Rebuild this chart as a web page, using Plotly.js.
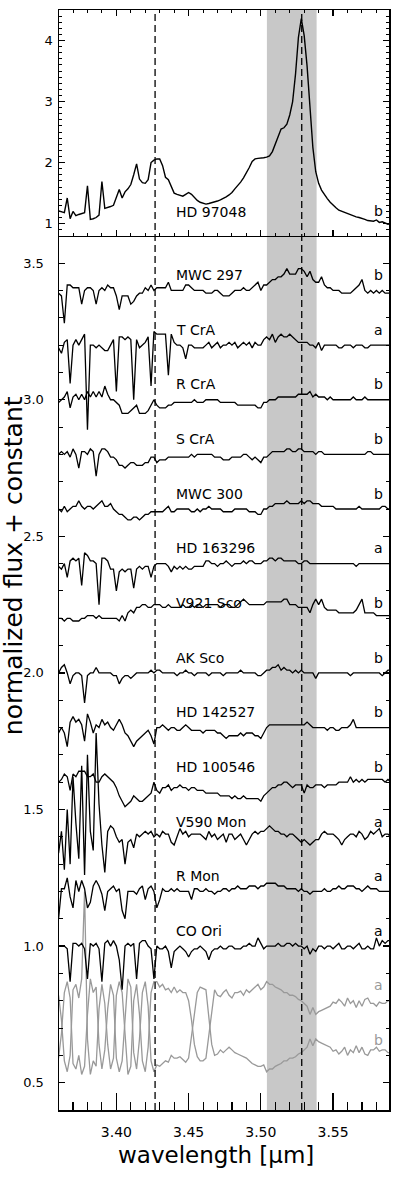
<!DOCTYPE html>
<html>
<head>
<meta charset="utf-8">
<script src="https://cdn.plot.ly/plotly-3.0.1.min.js"></script>
<style>
html,body{margin:0;padding:0;background:#fff;}
#chart{width:393px;height:1181px;}
</style>
</head>
<body>
<div id="chart"></div>
<script>
// ---------------- data ----------------
const wavelength = [
3.360,3.362,3.364,3.366,3.368,3.370,3.372,3.374,3.376,3.378,
3.380,3.382,3.384,3.386,3.388,3.390,3.392,3.394,3.396,3.398,
3.400,3.402,3.404,3.406,3.408,3.410,3.412,3.414,3.416,3.418,
3.420,3.422,3.424,3.426,3.428,3.430,3.432,3.434,3.436,3.438,
3.440,3.442,3.444,3.446,3.448,3.450,3.452,3.454,3.456,3.458,
3.460,3.462,3.464,3.466,3.468,3.470,3.472,3.474,3.476,3.478,
3.480,3.482,3.484,3.486,3.488,3.490,3.492,3.494,3.496,3.498,
3.500,3.502,3.504,3.506,3.508,3.510,3.512,3.514,3.516,3.518,
3.520,3.522,3.524,3.526,3.528,3.530,3.532,3.534,3.536,3.538,
3.540,3.542,3.544,3.546,3.548,3.550,3.552,3.554,3.556,3.558,
3.560,3.562,3.564,3.566,3.568,3.570,3.572,3.574,3.576,3.578,
3.580,3.582,3.584,3.586,3.588,3.590];

// top panel: HD 97048 (normalized flux)
const hd97048 = [
1.21,1.19,1.18,1.42,1.08,1.20,1.13,1.15,1.16,1.18,
1.62,1.07,1.08,1.10,1.14,1.69,1.25,1.26,1.28,1.30,
1.42,1.56,1.42,1.52,1.57,1.64,1.80,1.98,1.73,1.67,
1.66,1.72,2.00,2.04,2.06,2.06,1.95,1.76,1.72,1.62,
1.50,1.48,1.46,1.45,1.48,1.51,1.48,1.43,1.38,1.35,
1.33,1.32,1.33,1.34,1.36,1.37,1.39,1.41,1.44,1.47,
1.51,1.57,1.62,1.68,1.75,1.83,1.92,2.02,2.06,2.07,
2.07,2.08,2.09,2.11,2.18,2.30,2.45,2.55,2.57,2.63,
2.78,3.00,3.45,4.05,4.36,4.08,3.58,2.90,2.25,1.85,
1.66,1.55,1.47,1.41,1.35,1.30,1.26,1.22,1.20,1.18,
1.16,1.14,1.12,1.11,1.10,1.09,1.07,1.05,1.04,1.04,
1.06,1.02,1.03,1.01,0.99,1.00];

// bottom panel: normalized flux of each star
const mwc297 = [
0.99,0.98,0.88,1.02,1.02,1.01,1.01,1.01,0.95,1.00,
1.01,1.01,1.00,0.95,1.00,1.01,1.00,1.02,1.01,1.01,
0.98,0.93,0.98,0.98,0.98,0.95,0.96,0.98,0.99,0.99,
1.01,1.00,1.02,1.00,1.01,1.01,1.01,1.01,1.03,1.00,
1.00,1.00,1.00,1.00,1.02,1.02,1.01,1.00,1.00,1.00,
1.00,0.99,0.99,0.99,1.00,1.00,0.99,0.98,0.98,0.98,
0.99,1.00,1.00,1.00,1.01,1.00,1.00,1.01,1.02,1.03,
1.00,1.02,1.02,1.03,1.04,1.04,1.05,1.05,1.06,1.08,
1.06,1.06,1.06,1.08,1.08,1.07,1.05,1.07,1.04,1.03,
1.03,1.05,1.02,1.01,1.01,1.00,1.00,1.00,0.99,0.99,
0.99,0.99,1.00,1.01,1.02,1.04,1.00,0.99,1.00,0.99,
1.00,0.99,1.00,0.99,0.99,0.99];
const tcra = [
0.99,0.97,1.01,1.02,0.86,1.00,1.02,1.00,1.02,1.04,
0.69,1.00,1.00,0.99,1.00,0.99,0.98,0.98,1.00,1.02,
0.83,1.03,1.03,1.02,1.03,1.02,0.80,1.02,0.99,1.00,
1.01,1.03,0.85,1.05,1.04,1.04,1.04,1.04,0.89,1.04,
1.01,1.00,1.00,0.99,0.95,1.00,1.00,0.99,0.99,0.99,
0.99,1.00,1.01,0.99,1.00,1.01,0.99,1.00,1.00,1.01,
1.00,1.01,0.99,1.00,1.01,1.00,1.01,0.99,1.01,1.00,
1.00,1.02,1.03,1.02,1.04,1.01,1.03,1.04,1.03,1.03,
1.04,1.03,1.02,1.01,1.01,1.01,1.01,1.00,1.00,0.99,
1.01,0.98,1.00,1.00,1.00,1.00,1.00,0.99,0.99,1.00,
1.00,1.00,0.99,1.00,1.00,1.00,0.99,0.99,1.00,1.00,
1.00,1.00,1.00,1.00,1.00,1.00];
const rcra = [
0.99,1.00,1.01,1.03,0.97,1.01,1.02,1.00,1.02,1.00,
1.03,1.01,1.03,1.01,1.03,1.01,1.05,1.02,1.00,1.00,
0.99,0.98,0.95,0.95,0.95,0.96,0.97,0.98,0.95,0.95,
0.95,0.96,0.98,1.00,0.98,0.97,0.97,0.97,0.98,0.98,
0.99,0.99,0.99,0.99,0.99,0.99,0.99,1.00,0.99,0.99,
0.99,1.00,1.00,1.00,1.00,1.00,0.99,0.99,0.99,0.99,
0.99,0.99,0.98,0.98,0.98,0.98,0.98,0.98,0.98,0.97,
0.97,0.99,0.99,1.00,1.00,1.00,1.01,1.01,1.01,1.01,
1.01,1.01,1.01,1.02,1.02,1.02,1.02,1.03,1.01,1.02,
1.01,1.01,1.01,1.00,1.01,1.00,1.00,1.00,1.00,1.00,
1.00,1.00,1.01,1.00,1.00,1.00,1.01,1.00,1.00,1.00,
1.00,1.00,1.00,1.00,1.00,1.00];
const scra = [
1.00,1.01,1.00,1.01,0.99,1.02,1.00,0.95,1.01,1.01,
1.00,1.02,1.01,0.92,1.00,1.02,1.02,1.01,0.99,0.99,
0.98,0.96,0.96,0.95,0.96,0.97,0.97,0.96,0.96,0.96,
0.97,0.97,0.99,0.99,0.97,0.98,0.98,0.98,0.99,0.99,
0.99,0.99,0.99,0.99,0.99,0.99,1.00,0.99,1.00,1.00,
1.00,1.00,1.00,1.00,0.99,0.99,0.99,0.98,0.98,0.98,
0.99,0.99,0.99,0.99,1.00,1.00,0.99,0.98,0.99,0.98,
0.97,0.99,0.99,1.00,1.01,1.01,1.01,1.01,1.01,1.02,
1.02,1.01,1.01,1.02,1.02,1.01,1.01,1.01,1.01,1.00,
1.01,1.01,1.00,1.00,1.00,1.00,1.00,1.00,1.00,1.00,
1.00,1.00,1.00,1.00,1.00,1.00,1.00,1.01,1.01,1.00,
1.00,1.00,1.00,1.00,1.00,1.00];
const mwc300 = [
1.00,0.99,1.01,0.99,1.00,1.01,1.01,1.03,1.01,1.00,
1.01,1.01,1.00,1.01,1.02,1.03,1.01,1.01,1.02,1.00,
0.99,0.98,0.98,0.97,0.96,0.96,0.97,0.97,0.96,0.97,
0.98,0.98,0.99,0.99,0.99,0.99,0.99,1.00,1.01,0.99,
0.99,1.00,1.00,1.00,1.00,1.00,0.99,0.99,1.00,0.99,
1.00,1.00,1.01,1.00,1.00,1.00,1.00,0.99,0.99,0.99,
0.99,1.00,1.00,1.00,1.00,1.00,0.99,0.99,0.99,0.98,
0.98,1.00,1.00,1.01,1.01,1.02,1.02,1.02,1.02,1.03,
1.02,1.02,1.02,1.02,1.03,1.02,1.03,1.03,1.02,1.02,
1.02,1.01,1.01,1.01,1.01,1.01,1.00,1.00,1.00,1.00,
1.00,1.00,1.00,1.00,1.01,1.00,1.00,1.00,1.00,1.00,
1.00,1.00,1.01,1.01,1.00,1.00];
const hd163296 = [
0.99,0.98,1.00,0.95,1.01,1.02,1.01,1.02,0.92,1.04,
1.03,1.01,1.01,1.00,0.85,1.02,1.02,1.01,0.98,0.98,
0.90,0.97,0.98,0.97,0.98,0.98,0.91,0.98,0.99,0.98,
0.99,0.99,0.95,0.99,1.00,1.00,1.00,1.00,0.99,0.97,
0.99,0.98,0.99,0.98,0.99,0.98,0.98,0.99,0.99,0.99,
0.99,1.01,1.01,1.00,1.00,0.99,1.00,1.00,1.01,1.00,
0.99,1.00,1.00,1.00,1.01,1.00,1.01,1.01,1.00,1.00,
1.00,1.01,1.01,1.02,1.02,1.01,1.02,1.02,1.01,1.01,
1.01,1.01,1.01,1.00,1.00,1.01,1.01,1.00,1.00,1.00,
1.00,1.00,1.00,1.00,1.00,1.00,1.00,1.00,1.00,1.00,
1.00,1.00,1.00,0.99,1.00,1.00,1.00,1.00,1.00,1.00,
1.00,1.00,1.00,1.00,1.00,1.00];
const v921sco = [
1.00,1.00,0.99,1.00,1.00,0.99,0.99,0.99,1.00,1.00,
1.01,1.01,1.01,1.00,1.01,1.00,1.00,1.00,1.00,1.00,
1.00,0.99,1.01,0.99,1.02,1.03,1.02,1.04,1.04,1.05,
1.05,1.04,1.04,1.05,1.05,1.05,1.04,1.04,1.05,1.04,
1.04,1.04,1.04,1.05,1.04,1.04,1.05,1.04,1.05,1.05,
1.04,1.05,1.05,1.05,1.05,1.05,1.04,1.05,1.05,1.05,
1.04,1.04,1.05,1.06,1.07,1.06,1.05,1.05,1.05,1.05,
1.05,1.05,1.06,1.06,1.06,1.06,1.06,1.06,1.07,1.07,
1.05,1.05,1.05,1.04,1.04,1.04,1.04,1.02,1.05,1.07,
1.05,1.07,1.04,1.03,1.03,1.03,1.03,1.02,1.02,1.02,
1.02,1.02,1.02,1.03,1.05,1.07,1.02,1.02,1.02,1.02,
1.01,1.01,1.01,1.01,1.01,1.01];
const aksco = [
1.00,1.02,1.03,1.00,0.96,0.99,1.00,1.00,0.99,0.89,
0.99,1.00,1.00,1.02,1.00,1.00,1.00,1.00,1.00,0.99,
0.99,0.96,0.98,0.99,0.99,0.98,0.99,1.00,1.00,1.00,
1.00,1.00,1.01,1.00,1.01,1.01,1.00,1.00,1.00,1.00,
1.00,0.99,1.00,1.00,1.01,1.00,1.00,0.99,1.00,1.00,
1.00,1.00,0.99,1.00,1.00,1.00,1.00,0.99,1.00,1.00,
1.00,1.00,1.00,1.01,1.00,1.00,1.00,1.00,1.00,0.99,
0.99,1.00,1.01,1.01,1.02,1.02,1.03,1.01,1.02,1.01,
1.01,1.00,1.01,1.00,1.01,1.00,1.00,1.00,1.00,0.98,
1.00,1.00,1.00,1.00,1.00,1.00,1.00,1.00,1.00,1.00,
1.00,0.99,1.00,1.00,1.00,1.00,1.00,1.00,1.00,1.00,
1.00,1.00,0.99,1.00,1.01,1.01];
const hd142527 = [
0.98,1.00,0.98,0.93,1.02,1.04,1.02,1.03,1.01,0.95,
1.05,1.02,0.98,1.01,1.00,1.03,1.01,1.02,1.00,0.99,
1.01,1.03,1.01,0.98,0.97,0.95,0.93,0.95,0.96,0.97,
0.98,0.99,0.97,0.94,1.00,1.00,1.01,1.00,0.99,1.00,
1.00,0.99,0.99,1.00,1.01,1.00,0.99,0.99,0.99,0.99,
0.98,0.99,0.99,0.99,0.99,0.98,0.98,0.97,0.96,0.97,
0.97,0.97,0.97,0.98,0.97,0.98,0.98,0.98,0.97,0.97,
0.96,0.98,1.00,1.01,1.01,1.01,1.01,1.01,1.01,1.01,
1.01,1.01,1.01,1.01,1.01,1.01,1.02,1.01,1.00,1.00,
1.00,1.00,1.00,0.99,1.00,1.00,0.99,0.99,1.00,1.00,
1.00,1.01,1.03,1.00,1.00,1.00,1.00,1.00,1.00,1.00,
1.00,1.00,1.00,1.00,1.00,1.00];
const hd100546 = [
1.00,1.01,1.03,1.02,0.97,1.03,1.02,1.04,1.04,1.04,
1.02,1.02,1.03,1.00,1.00,1.02,1.03,1.02,1.01,1.00,
0.98,0.95,0.93,0.91,0.92,0.93,0.95,0.94,0.93,0.93,
0.94,0.95,0.96,1.00,0.97,0.96,0.98,0.98,0.99,0.97,
0.98,0.98,0.99,0.98,0.98,0.97,0.98,0.98,0.97,0.97,
0.97,0.96,0.96,0.96,0.96,0.96,0.95,0.95,0.95,0.95,
0.94,0.95,0.94,0.94,0.95,0.94,0.94,0.94,0.94,0.94,
0.93,0.95,0.96,0.97,0.98,0.98,0.99,0.99,1.00,1.00,
0.99,0.98,0.99,0.99,0.99,0.96,0.99,0.98,0.98,0.99,
0.99,0.99,0.98,0.99,0.99,0.99,0.99,1.00,1.00,1.00,
1.00,1.02,1.00,1.01,1.00,1.01,1.00,1.01,1.01,1.01,
1.01,1.01,1.01,1.00,1.01,1.00];
const v590mon = [
0.94,1.02,0.88,1.10,0.90,1.22,1.05,0.92,1.26,0.86,
1.30,1.02,0.95,1.38,1.12,0.97,0.87,1.02,1.04,1.03,
1.00,0.98,0.99,0.90,0.98,0.99,0.96,1.01,1.00,1.01,
1.02,1.01,1.02,1.00,1.01,1.00,1.02,1.01,1.01,0.98,
0.97,1.00,1.03,1.01,1.02,1.00,1.01,1.01,1.01,1.01,
1.00,0.99,1.02,1.00,1.01,0.99,1.00,1.01,0.98,1.01,
1.01,0.99,1.00,1.01,0.99,0.97,0.99,1.01,1.02,1.01,
1.02,1.02,1.03,1.04,1.03,1.02,1.02,1.01,1.01,1.00,
1.01,1.01,1.00,0.99,0.98,0.99,0.98,0.97,0.98,0.99,
0.99,1.01,1.02,1.01,1.01,1.01,1.00,0.99,0.97,0.99,
1.00,1.01,1.01,1.00,1.02,1.01,0.99,1.00,1.02,1.01,
1.02,1.03,1.00,1.01,1.01,1.00];
const rmon = [
0.90,1.01,1.01,1.05,0.98,0.94,1.04,1.00,1.04,1.01,
0.94,0.96,1.02,1.04,1.02,0.99,0.93,1.00,1.01,1.02,
1.00,1.01,0.93,0.90,1.00,1.00,1.00,0.99,1.01,1.02,
0.97,1.01,1.02,1.00,0.94,0.97,1.01,1.00,1.00,1.01,
1.00,1.01,1.00,1.00,1.00,1.00,0.97,1.01,1.01,1.00,
1.00,1.01,1.00,1.00,0.99,1.00,1.00,1.01,1.01,1.00,
1.01,1.01,1.02,1.01,1.01,1.01,1.02,1.02,1.02,1.01,
1.02,1.02,1.03,1.03,1.03,1.03,1.02,1.02,1.02,1.01,
1.01,1.01,1.01,1.00,1.01,1.00,1.00,0.99,1.00,1.00,
1.00,1.00,1.01,1.00,1.00,1.01,1.01,1.02,1.01,1.01,
1.02,1.02,1.02,1.01,1.01,1.00,1.01,1.02,1.01,1.01,
1.01,1.00,1.00,1.00,1.00,1.00];
const coori = [
1.00,1.00,1.00,0.99,0.87,1.01,1.01,1.00,1.01,0.99,
0.88,1.01,1.00,1.01,0.99,0.87,1.01,1.02,1.00,1.02,
1.00,0.95,0.84,1.00,1.01,1.00,1.01,0.88,1.01,1.02,
1.02,1.00,0.99,0.88,1.00,0.99,0.99,1.00,0.98,0.92,
0.98,0.99,1.00,0.99,0.98,0.96,0.98,0.99,0.99,1.00,
0.99,0.98,0.95,0.98,0.99,0.99,1.00,0.99,0.99,1.00,
1.00,0.99,0.99,0.99,1.00,1.00,1.01,1.00,1.00,1.03,
1.01,0.99,1.00,1.00,1.00,1.00,1.01,1.00,1.00,1.01,
1.01,1.00,1.01,1.00,1.00,0.99,1.00,0.97,0.99,0.98,
1.00,1.00,0.99,1.00,1.00,0.99,1.00,1.01,0.99,0.99,
1.00,1.00,0.99,1.00,1.01,0.99,0.99,1.00,0.99,0.99,
1.03,1.00,1.02,1.01,1.02,1.02];
// grey comparison spectra
const grayA = [
1.02,0.93,0.78,0.74,0.80,1.04,1.06,1.01,1.08,1.40,
0.86,0.73,0.78,0.76,0.97,1.06,0.99,0.84,0.75,0.79,
1.02,1.07,1.03,0.86,0.73,0.76,1.00,1.06,0.95,0.78,
0.74,0.83,1.03,1.07,1.07,1.05,1.06,1.04,1.045,1.03,
1.05,1.03,1.04,1.03,1.03,1.00,0.93,0.84,0.795,0.78,
0.78,0.79,0.87,0.97,1.04,1.02,1.015,1.03,1.04,1.02,
1.01,1.03,1.03,1.035,1.02,1.04,1.03,1.04,1.05,1.06,
1.04,1.05,1.07,1.06,1.06,1.05,1.045,1.04,1.03,1.03,
1.02,1.02,1.015,1.005,1.00,0.99,0.98,0.95,0.975,0.95,
0.96,0.965,0.97,0.975,0.98,0.995,0.99,1.005,0.995,0.98,
1.01,0.99,1.00,0.975,1.00,0.98,1.005,1.01,0.99,0.99,
0.98,0.995,0.99,0.99,1.00,1.00];
const grayB = [
0.99,1.08,1.23,1.27,1.21,0.97,0.95,1.00,0.93,0.96,
1.15,1.28,1.23,1.25,1.04,0.95,1.02,1.17,1.26,1.22,
0.99,0.94,0.98,1.15,1.28,1.25,1.01,0.95,1.06,1.23,
1.27,1.18,0.98,0.94,0.965,0.96,0.97,0.98,0.975,1.00,
0.99,0.99,0.995,0.985,0.975,0.99,1.07,1.17,1.23,1.25,
1.245,1.24,1.14,1.04,1.00,1.005,1.02,1.01,1.02,1.03,
1.02,1.01,1.005,1.00,0.995,0.99,0.98,0.97,0.965,0.96,
0.96,0.965,0.94,0.95,0.95,0.96,0.965,0.97,0.98,0.98,
0.99,0.99,0.995,1.005,1.01,1.02,1.03,1.06,1.035,1.06,
1.05,1.045,1.04,1.035,1.03,1.015,1.02,1.005,1.015,1.03,
1.00,1.02,1.01,1.035,1.01,1.03,1.005,1.00,1.02,1.02,
1.03,1.015,1.02,1.02,1.01,1.01];

const starSeries = [mwc297, tcra, rcra, scra, mwc300, hd163296, v921sco, aksco, hd142527, hd100546, v590mon, rmon, coori];
const starNames = ["MWC 297","T CrA","R CrA","S CrA","MWC 300","HD 163296","V921 Sco","AK Sco","HD 142527","HD 100546","V590 Mon","R Mon","CO Ori"];
const starConstants = [2.4, 2.2, 2.0, 1.8, 1.6, 1.4, 1.2, 1.0, 0.8, 0.6, 0.4, 0.2, 0.0];
const starLetters = ["b","a","b","b","b","a","b","b","b","b","a","a","a"];
const graySeries = [grayA, grayB];
const grayConstants = [-0.2, -0.4];
const grayLetters = ["a","b"];
const topName = "HD 97048";
const topLetter = "b";
const markerLines = [3.4268, 3.5283];
const band = [3.5042, 3.5386];

// ---------------- figure ----------------
const FONT = "DejaVu Sans, Verdana, sans-serif";
const split = 0.7947;
const traces = [];
graySeries.forEach((s, k) => {
  traces.push({x: wavelength, y: s.map(v => v + grayConstants[k]), xaxis: "x", yaxis: "y",
    mode: "lines", line: {color: "#999999", width: 1.3}, hoverinfo: "skip"});
});
starSeries.forEach((s, k) => {
  traces.push({x: wavelength, y: s.map(v => v + starConstants[k]), xaxis: "x", yaxis: "y",
    mode: "lines", line: {color: "#000", width: 1.3}, hoverinfo: "skip"});
});
traces.push({x: wavelength, y: hd97048, xaxis: "x2", yaxis: "y2", mode: "lines",
  line: {color: "#000", width: 1.4}, hoverinfo: "skip"});

const annotations = [];
starNames.forEach((n, k) => {
  const yy = starConstants[k] + 1.056;
  annotations.push({x: 3.44, y: yy, xref: "x", yref: "y", text: n, showarrow: false,
    xanchor: "left", yanchor: "middle", font: {family: FONT, size: 14, color: "#000"}});
  annotations.push({x: 3.5817, y: yy, xref: "x", yref: "y", text: starLetters[k], showarrow: false,
    xanchor: "center", yanchor: "middle", font: {family: FONT, size: 14, color: "#000"}});
});
grayLetters.forEach((l, k) => {
  annotations.push({x: 3.5817, y: grayConstants[k] + 1.056, xref: "x", yref: "y", text: l, showarrow: false,
    xanchor: "center", yanchor: "middle", font: {family: FONT, size: 14, color: "#999999"}});
});
annotations.push({x: 3.44, y: 1.19, xref: "x2", yref: "y2", text: topName, showarrow: false,
  xanchor: "left", yanchor: "middle", font: {family: FONT, size: 14, color: "#000"}});
annotations.push({x: 3.5817, y: 1.21, xref: "x2", yref: "y2", text: topLetter, showarrow: false,
  xanchor: "center", yanchor: "middle", font: {family: FONT, size: 14, color: "#000"}});
annotations.push({x: 0.4758, y: -0.041, xref: "paper", yref: "paper", text: "wavelength [μm]",
  showarrow: false, xanchor: "center", yanchor: "middle", font: {family: FONT, size: 23, color: "#000"}});
annotations.push({x: -0.139, y: 0.4945, xref: "paper", yref: "paper", text: "normalized flux + constant",
  textangle: -90, showarrow: false, xanchor: "center", yanchor: "middle", font: {family: FONT, size: 25, color: "#000"}});

const shapes = [
  {type: "rect", xref: "x", yref: "paper", x0: band[0], x1: band[1], y0: 0, y1: 1,
   fillcolor: "#c8c8c8", line: {width: 0}, layer: "below"}
];
markerLines.forEach(xv => shapes.push({type: "line", xref: "x", yref: "paper", x0: xv, x1: xv, y0: 0, y1: 1,
  line: {color: "#000", width: 1.3, dash: "7px,4px"}, layer: "above"}));

const xr = [3.3603, 3.5887];
const layout = {
  width: 393, height: 1181,
  margin: {l: 59, r: 4, t: 10, b: 71, pad: 0},
  paper_bgcolor: "#fff", plot_bgcolor: "rgba(0,0,0,0)",
  showlegend: false, hovermode: false,
  font: {family: FONT, color: "#000"},
  xaxis: {domain: [0, 1], range: xr, anchor: "y", showline: true, linecolor: "#000", linewidth: 1.5,
    mirror: false, ticks: "inside", ticklen: 17, tickwidth: 1.2, tickcolor: "#000",
    tick0: 3.40, dtick: 0.05, tickformat: ".2f", tickfont: {family: FONT, size: 14, color: "#000"},
    ticklabelstandoff: 9,
    minor: {dtick: 0.01, ticklen: 8, tickwidth: 1.1, tickcolor: "#000", ticks: "inside", showgrid: false},
    showgrid: false, zeroline: false},
  xaxis2: {domain: [0, 1], range: xr, anchor: "y2", showline: true, linecolor: "#000", linewidth: 1.5,
    mirror: "ticks", ticks: "inside", ticklen: 6, tickwidth: 1.2, tickcolor: "#000",
    tick0: 3.40, dtick: 0.05, showticklabels: false,
    minor: {dtick: 0.01, ticklen: 3, tickwidth: 1.0, tickcolor: "#000", ticks: "inside", showgrid: false},
    showgrid: false, zeroline: false},
  yaxis: {domain: [0, split], range: [0.4, 3.6], anchor: "x", showline: true, linecolor: "#000", linewidth: 1.5,
    mirror: "ticks", ticks: "inside", ticklen: 6, tickwidth: 1.2, tickcolor: "#000",
    tick0: 0.5, dtick: 0.5, tickformat: ".1f", tickfont: {family: FONT, size: 13, color: "#000"},
    ticklabelstandoff: 11,
    minor: {dtick: 0.1, ticklen: 3.5, tickwidth: 1.0, tickcolor: "#000", ticks: "inside", showgrid: false},
    showgrid: false, zeroline: false},
  yaxis2: {domain: [split, 1], range: [0.8, 4.5], anchor: "x2", showline: true, linecolor: "#000", linewidth: 1.5,
    mirror: "ticks", ticks: "inside", ticklen: 6, tickwidth: 1.2, tickcolor: "#000",
    tick0: 1, dtick: 1, tickfont: {family: FONT, size: 13, color: "#000"},
    ticklabelstandoff: 2,
    minor: {dtick: 0.1, ticklen: 3, tickwidth: 1.0, tickcolor: "#000", ticks: "inside", showgrid: false},
    showgrid: false, zeroline: false},
  shapes: shapes,
  annotations: annotations
};
Plotly.newPlot("chart", traces, layout, {staticPlot: true, displayModeBar: false});
</script>
</body>
</html>
